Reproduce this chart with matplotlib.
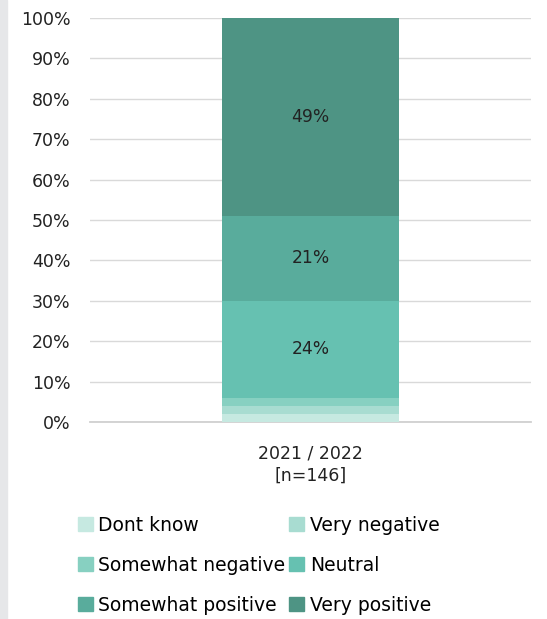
import matplotlib.pyplot as plt
from matplotlib.patches import Patch, Rectangle

categories = ["2021 / 2022\n[n=146]"]
series_names = ["Dont know", "Very negative", "Somewhat negative", "Neutral",
                "Somewhat positive", "Very positive"]
values = [2, 2, 2, 24, 21, 49]
labels_shown = [None, None, None, "24%", "21%", "49%"]
colors = ["#c6e9e1", "#a8dcd1", "#87d0c1", "#66c1b1", "#59ac9c", "#4e9484"]
yticks = [0, 10, 20, 30, 40, 50, 60, 70, 80, 90, 100]

plt.rcParams['font.family'] = ['DejaVu Sans']
fig = plt.figure(figsize=(5.47, 6.19), dpi=100)
fig.patches.append(Rectangle((0, 0), 7/547, 1, transform=fig.transFigure,
                             color="#e6e7e9", zorder=-1))
ax = fig.add_axes([90/547, 1 - 422/619, 441/547, (422 - 18)/619])

bottom = 0
for name, v, lab, c in zip(series_names, values, labels_shown, colors):
    ax.bar(0, v, bottom=bottom, width=0.4, color=c, label=name, zorder=3)
    if lab:
        ax.text(0, bottom + v / 2, lab, ha="center", va="center",
                fontsize=12.3, color="#222222", zorder=4)
    bottom += v

ax.set_xlim(-0.5, 0.5)
ax.set_ylim(0, 100)
ax.set_yticks(yticks)
ax.set_yticklabels([f"{t}%" for t in yticks], fontsize=12.5, color="#222222")
ax.set_xticks([0])
ax.set_xticklabels(categories, fontsize=12.5, color="#222222", linespacing=1.3)
ax.tick_params(length=0)
ax.tick_params(axis="y", pad=14)
ax.tick_params(axis="x", pad=16)
ax.grid(axis="y", color="#d9d9d9", linewidth=1, zorder=0)
for s in ["top", "right", "left"]:
    ax.spines[s].set_visible(False)
ax.spines["bottom"].set_color("#d0d0d0")
ax.spines["bottom"].set_linewidth(1.3)

order = [0, 2, 4, 1, 3, 5]
handles = [Patch(color=colors[i]) for i in order]
names = [series_names[i] for i in order]
fig.legend(handles, names, ncol=2, loc="lower left",
           bbox_to_anchor=(61/547, -0.0205), frameon=False, fontsize=13.5,
           handlelength=0.8, handleheight=0.8, handletextpad=0.3,
           columnspacing=0.2, labelspacing=1.12)

fig.savefig("out.png", dpi=100)
